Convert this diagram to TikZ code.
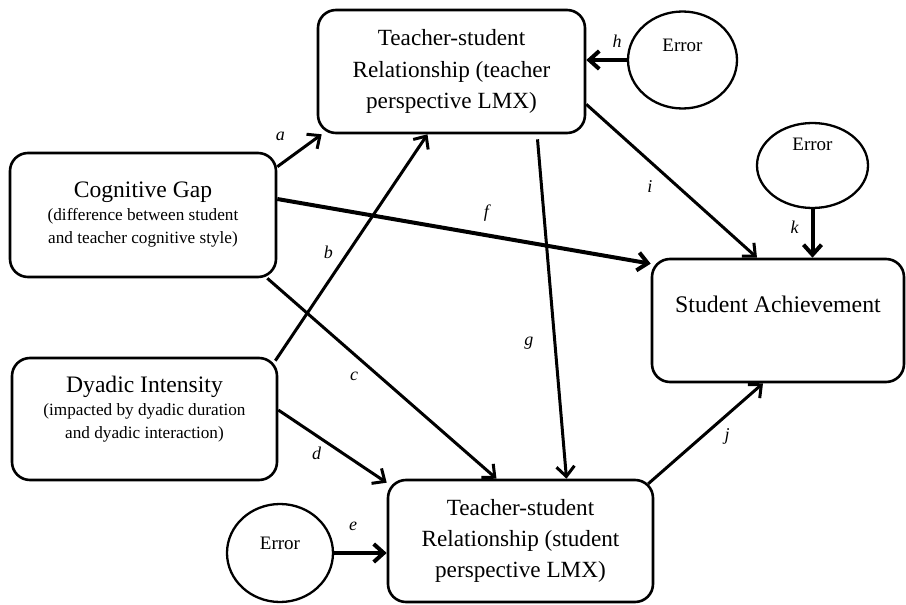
\documentclass[tikz,border=0pt]{standalone}
\usepackage{fontspec}
\setmainfont{Liberation Serif}
\usepackage{tikz}
\usetikzlibrary{arrows.meta,positioning,shapes.geometric}

\newcommand{\subtxt}{\fontsize{8.6}{11.2}\selectfont}

\begin{document}
\begin{tikzpicture}[
  x=0.5pt, y=-0.5pt,
  blk/.style={draw, rounded corners=9pt, line width=1.3pt, align=center,
              font=\fontsize{11.6}{15.7}\selectfont, inner sep=2pt},
  err/.style={draw, ellipse, line width=1.15pt, inner sep=0pt,
              font=\fontsize{9.5}{11}\selectfont},
  lbl/.style={font=\fontsize{9}{10}\selectfont\itshape, inner sep=1pt},
  arr/.style={-{Straight Barb[length=5pt,width=9pt]}, line width=1.5pt},
  tarr/.style={arr, line width=2pt}
]
\useasboundingbox (0,0) rectangle (906,605);

%% Boxes
\node[blk, minimum width=133.5pt, minimum height=61.5pt] (tt) at (451.5,71.5)
  {Teacher-student\\Relationship (teacher\\perspective LMX)};
\node[blk, minimum width=133pt, minimum height=62pt,
      font=\fontsize{11.8}{11.5}\selectfont] (cg) at (143,215)
  {Cognitive Gap\\\subtxt (difference between student\\\subtxt and teacher cognitive style)};
\node[blk, minimum width=132.5pt, minimum height=61pt, text depth=12pt,
      font=\fontsize{11.8}{11.5}\selectfont] (di) at (144.5,419)
  {Dyadic Intensity\\\subtxt (impacted by dyadic duration\\\subtxt and dyadic interaction)};
\node[blk, minimum width=132.5pt, minimum height=61pt] (ts) at (520.5,541)
  {Teacher-student\\Relationship (student\\perspective LMX)};
\node[blk, minimum width=126pt, minimum height=61.5pt, text depth=16.7pt,
      font=\fontsize{11.9}{14}\selectfont] (sa) at (778,320.5) {Student Achievement};

%% Error terms
\node[err, minimum width=54.5pt, minimum height=48.5pt, text depth=15pt]   (e1) at (682.5,60)    {Error};
\node[err, minimum width=55.5pt, minimum height=42.5pt, text depth=21pt]   (e2) at (812.5,165.5) {Error};
\node[err, minimum width=53pt,   minimum height=49pt,   text depth=10pt]   (e3) at (280,553)     {Error};

%% Paths
\draw[arr] ([yshift=-7.5pt]cg.north east) -- ([xshift=2.5pt]tt.south west)
  node[lbl, pos=0.44, above left=6pt] (la) {a};
\draw[arr] ([shift={(-1.5pt,-2pt)}]di.north east) -- ([xshift=-12pt]tt.south)
  node[lbl, pos=0.48, left=6pt] (lb) {b};
\draw[arr] ([xshift=-5pt]cg.south east) -- ([xshift=-12pt]ts.north)
  node[lbl, pos=0.43, below left=3pt] (lc) {c};
\draw[arr] ([yshift=4.5pt]di.east) -- ([yshift=-2pt]ts.north west)
  node[lbl, pos=0.44, below left=1pt] (ld) {d};
\draw[tarr] (e3) -- (e3 -| ts.west)
  node[lbl, pos=0.36, above=9pt] (le) {e};
\draw[tarr] ([yshift=8pt]cg.east) -- ([yshift=-3pt]sa.north west)
  node[lbl, pos=0.56, above=5pt] (lf) {f};
\draw[arr] ([shift={(43pt,-2.5pt)}]tt.south) -- ([xshift=23pt]ts.north)
  node[lbl, pos=0.6, left=9pt] (lg) {g};
\draw[tarr] (e1) -- (e1 -| tt.east)
  node[lbl, pos=0.24, above=4.5pt] (lh) {h};
\draw[arr] ([yshift=15pt]tt.south east) -- ([xshift=-10.5pt]sa.north)
  node[lbl, pos=0.44, below left=4pt] (li) {i};
\draw[arr] ([shift={(-3pt,-2.5pt)}]ts.north east) -- ([xshift=-7.5pt]sa.south)
  node[lbl, pos=0.61, below right=2pt] (lj) {j};
\draw[tarr] (e2) -- (e2 |- sa.north)
  node[lbl, pos=0.37, left=5pt] (lk) {k};
\end{tikzpicture}
\end{document}
